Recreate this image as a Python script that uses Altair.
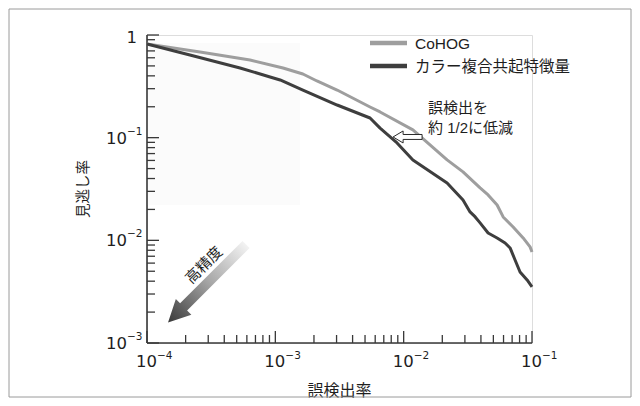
import altair as alt
import pandas as pd

# ---------------- data ----------------
series_names = ["CoHOG", "カラー複合共起特徴量"]
series_colors = ["#9e9e9e", "#3e3e3e"]

fpr_cohog = [1e-4, 2.59e-4, 6.35e-4, 1.148e-3, 1.64e-3, 2.11e-3, 3.03e-3, 5.47e-3,
             6.55e-3, 1.18e-2, 2.18e-2, 2.9e-2, 3.94e-2, 4.55e-2, 5.35e-2,
             5.96e-2, 7.13e-2, 8.53e-2, 9.66e-2, 0.1]
miss_cohog = [0.817, 0.683, 0.571, 0.477, 0.417, 0.3565, 0.291, 0.199,
              0.178, 0.119, 0.0607, 0.0464, 0.0324, 0.0277, 0.0221,
              0.0169, 0.0135, 0.01055, 0.00863, 0.0077]

fpr_color = [1e-4, 2.16e-4, 5.31e-4, 9.1e-4, 1.09e-3, 1.64e-3, 3.03e-3, 5.47e-3,
             6.55e-3, 8.88e-3, 1.18e-2, 2.18e-2, 2.9e-2, 3.29e-2, 3.61e-2,
             3.94e-2, 4.55e-2, 5.35e-2, 6.17e-2, 6.75e-2, 7.38e-2, 8.07e-2,
             9.16e-2, 0.1]
miss_color = [0.817, 0.639, 0.477, 0.390, 0.365, 0.291, 0.208, 0.1555,
              0.124, 0.0888, 0.0607, 0.0362, 0.0247, 0.0189, 0.0169,
              0.0148, 0.0118, 0.01055, 0.00943, 0.00843, 0.00644, 0.00492,
              0.00411, 0.00352]

x_major = [1e-4, 1e-3, 1e-2, 1e-1]
x_label_base = ["10", "10", "10", "10"]
x_label_exp = ["−4", "−3", "−2", "−1"]
y_major = [1e-3, 1e-2, 1e-1, 1.0]
y_label_base = ["10", "10", "10", "1"]
y_label_exp = ["−3", "−2", "−1", ""]
minor_mult = [2, 3, 4, 5, 6, 7, 8, 9]
x_minor = [m * d for d in [1e-4, 1e-3, 1e-2] for m in minor_mult]
y_minor = [m * d for d in [1e-3, 1e-2, 1e-1] for m in minor_mult]

x_title = "誤検出率"
y_title = "見逃し率"

note_lines = ["誤検出を", "約 1/2に低減"]
note_x = [1.55e-2, 1.55e-2]
note_y = [0.1946, 0.1243]

hint_text = "高精度"
hint_pos = (2.78e-4, 5.76e-3)
grad_arrow_pos = (2.99e-4, 3.89e-3)
hollow_arrow_pos = (1.073e-2, 0.1016)
shade_box = (1e-4, 1.56e-3, 0.836, 0.0221)

# ---------------- helpers ----------------
FONT = "Liberation Sans, Noto Sans CJK JP, sans-serif"
NUMFONT = "DejaVu Sans, sans-serif"
TXT = "#1e1e1e"
AX = "#383838"
W, H = 385, 308

xs = alt.Scale(type="log", domain=[1e-4, 1e-1], nice=False)
ys = alt.Scale(type="log", domain=[1e-3, 1.0], nice=False)


def X(f):
    return alt.X(f, scale=xs, axis=None)


def Y(f):
    return alt.Y(f, scale=ys, axis=None)


curves = pd.concat([
    pd.DataFrame({"fpr": fpr_cohog, "miss": miss_cohog, "series": series_names[0]}),
    pd.DataFrame({"fpr": fpr_color, "miss": miss_color, "series": series_names[1]}),
])

# faint shaded box
shade = alt.Chart(pd.DataFrame({"x": [shade_box[0]], "x2": [shade_box[1]],
                                "y": [shade_box[2]], "y2": [shade_box[3]]})).mark_rect(
    color="#fbfbfb").encode(x=X("x:Q"), x2="x2:Q", y=Y("y:Q"), y2="y2:Q")

lines = alt.Chart(curves).mark_line(strokeWidth=3, strokeJoin="round").encode(
    x=X("fpr:Q"), y=Y("miss:Q"),
    color=alt.Color("series:N", scale=alt.Scale(domain=series_names, range=series_colors),
                    legend=None),
    order=alt.Order("fpr:Q"),
)

one = pd.DataFrame({"a": [0]})
domains = [
    alt.Chart(one).mark_rule(color=AX, strokeWidth=1.6).encode(
        x=alt.value(0), y=alt.value(0), y2=alt.value(H)),
    alt.Chart(one).mark_rule(color=AX, strokeWidth=1.6).encode(
        x=alt.value(0), x2=alt.value(W), y=alt.value(H)),
]


def xticks(vals, length):
    return alt.Chart(pd.DataFrame({"v": vals})).mark_rule(color=AX, strokeWidth=1.3).encode(
        x=X("v:Q"), y=alt.value(H), y2=alt.value(H - length))


def yticks(vals, length):
    return alt.Chart(pd.DataFrame({"v": vals})).mark_rule(color=AX, strokeWidth=1.3).encode(
        y=Y("v:Q"), x=alt.value(0), x2=alt.value(length))


ticks = [xticks(x_major, 12), xticks(x_minor, 8), yticks(y_major, 12), yticks(y_minor, 8)]

# tick labels
xl = pd.DataFrame({"v": x_major, "b": x_label_base, "e": x_label_exp})
yl = pd.DataFrame({"v": y_major, "b": y_label_base, "e": y_label_exp})
yl_pow = yl[yl["e"] != ""]
yl_one = yl[yl["e"] == ""]
labels = [
    alt.Chart(xl).mark_text(font=NUMFONT, fontSize=16.5, color=TXT, align="right",
                            baseline="alphabetic", dx=10).encode(
        x=X("v:Q"), y=alt.value(H + 24), text="b:N"),
    alt.Chart(xl).mark_text(font=NUMFONT, fontSize=10.5, color=TXT, align="left",
                            baseline="alphabetic", dx=10).encode(
        x=X("v:Q"), y=alt.value(H + 16), text="e:N"),
    alt.Chart(yl_pow).mark_text(font=NUMFONT, fontSize=16.5, color=TXT, align="right",
                                baseline="alphabetic", dy=6).encode(
        y=Y("v:Q"), x=alt.value(-20), text="b:N"),
    alt.Chart(yl_pow).mark_text(font=NUMFONT, fontSize=10.5, color=TXT, align="left",
                                baseline="alphabetic", dy=-3).encode(
        y=Y("v:Q"), x=alt.value(-20), text="e:N"),
    alt.Chart(yl_one).mark_text(font=NUMFONT, fontSize=16.5, color=TXT, align="right",
                                baseline="alphabetic", dy=8).encode(
        y=Y("v:Q"), x=alt.value(-10), text="b:N"),
]

titles = [
    alt.Chart(pd.DataFrame({"t": [x_title]})).mark_text(
        font=FONT, fontSize=16, color=TXT, align="center", baseline="middle").encode(
        x=alt.value(W / 2), y=alt.value(H + 48), text="t:N"),
    alt.Chart(pd.DataFrame({"t": [y_title]})).mark_text(
        font=FONT, fontSize=14.5, color=TXT, align="center", baseline="middle",
        angle=270).encode(
        x=alt.value(-63), y=alt.value(H / 2), text="t:N"),
]

# gradient arrow (points down-left)
GRAD_PATH = ("M 1.038 -0.862 L -0.523 0.699 L -0.417 0.805 L -1 1 "
             "L -0.805 0.417 L -0.699 0.523 L 0.862 -1.038 Z")
gradient = {"gradient": "linear", "x1": 1, "y1": 0, "x2": 0, "y2": 1,
            "stops": [{"offset": 0, "color": "#fafafa"},
                      {"offset": 0.5, "color": "#a6a6a6"},
                      {"offset": 1, "color": "#3a3a3a"}]}
grad_arrow = alt.Chart(pd.DataFrame({"x": [grad_arrow_pos[0]], "y": [grad_arrow_pos[1]]})).mark_point(
    shape=GRAD_PATH, size=6400, filled=True, fill=gradient, opacity=1, fillOpacity=1,
    strokeWidth=0).encode(x=X("x:Q"), y=Y("y:Q"))

hint = alt.Chart(pd.DataFrame({"x": [hint_pos[0]], "y": [hint_pos[1]], "t": [hint_text]})).mark_text(
    angle=315, font=FONT, fontSize=15, color=TXT, align="center", baseline="middle").encode(
    x=X("x:Q"), y=Y("y:Q"), text="t:N")

# hollow arrow pointing left
HOLLOW_PATH = "M -1 0 L -0.31 -0.414 L -0.31 -0.17 L 1 -0.17 L 1 0.17 L -0.31 0.17 L -0.31 0.414 Z"
hollow = alt.Chart(pd.DataFrame({"x": [hollow_arrow_pos[0]], "y": [hollow_arrow_pos[1]]})).mark_point(
    shape=HOLLOW_PATH, size=841, filled=True, fill="white", stroke="#2a2a2a",
    strokeWidth=1, opacity=1, fillOpacity=1).encode(x=X("x:Q"), y=Y("y:Q"))

notes = alt.Chart(pd.DataFrame({"x": note_x, "y": note_y, "t": note_lines})).mark_text(
    font=FONT, fontSize=15, color=TXT, align="left", baseline="middle").encode(
    x=X("x:Q"), y=Y("y:Q"), text="t:N")

# legend
legend_layers = []
for i, (name, col) in enumerate(zip(series_names, series_colors)):
    d = pd.DataFrame({"name": [name]})
    legend_layers.append(alt.Chart(d).mark_rule(color=col, strokeWidth=4.5).encode(
        x=alt.value(223), x2=alt.value(260), y=alt.value(8 + 23 * i)))
    legend_layers.append(alt.Chart(d).mark_text(
        font=FONT, fontSize=15.5, color=TXT, align="left", baseline="middle").encode(
        x=alt.value(268), y=alt.value(9 + 23 * i), text="name:N"))

border = alt.Chart(one).mark_rect(
    fillOpacity=0, stroke="#9a9a9a", strokeWidth=1).encode(
    x=alt.value(-138), x2=alt.value(484), y=alt.value(-26), y2=alt.value(362))

chart = alt.layer(shade, *ticks, *domains, lines, grad_arrow, hint, hollow, notes,
                  *labels, *titles, *legend_layers, border).properties(
    width=W, height=H,
    autosize=alt.AutoSizeParams(type="none"),
    padding={"left": 139, "top": 27, "right": 100, "bottom": 55},
).configure_view(stroke=None).configure(background="white")

chart.save("out.html", embed_options={"renderer": "svg", "actions": False})
